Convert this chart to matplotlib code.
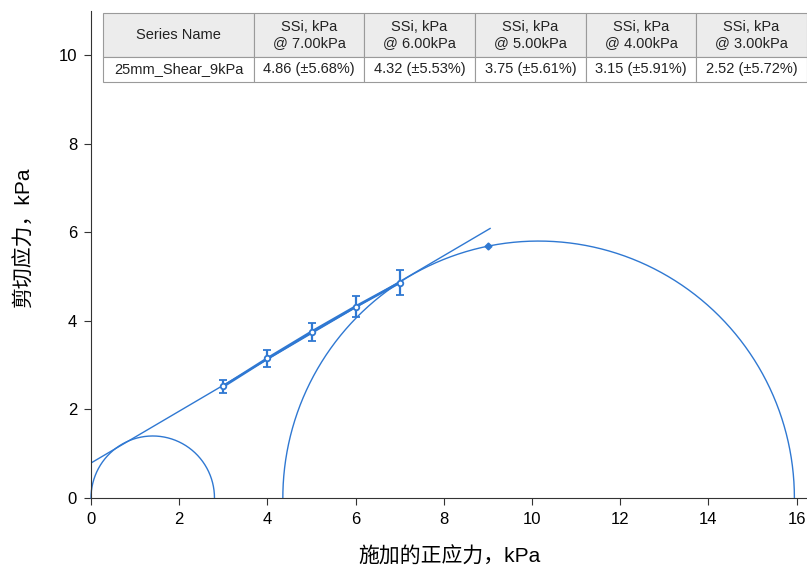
import numpy as np
import matplotlib
matplotlib.use("Agg")
import matplotlib.pyplot as plt

plt.rcParams['font.family'] = ['Liberation Sans', 'Noto Sans CJK SC', 'DejaVu Sans']

# measured points
normal_stress = [3.0, 4.0, 5.0, 6.0, 7.0]
shear_stress = [2.52, 3.15, 3.75, 4.32, 4.86]
err_pct = [5.72, 5.91, 5.61, 5.53, 5.68]

# fitted failure line
fit_x = [0.0, 9.05]
fit_intercept = 0.79
fit_slope = 0.585

# Mohr circles (center, radius)
circles = [(1.4, 1.4), (10.15, 5.8)]
peak_point = (9.0, 5.69)

col_labels = ['Series Name', 'SSi, kPa\n@ 7.00kPa', 'SSi, kPa\n@ 6.00kPa',
              'SSi, kPa\n@ 5.00kPa', 'SSi, kPa\n@ 4.00kPa', 'SSi, kPa\n@ 3.00kPa']
row_values = ['25mm_Shear_9kPa', '4.86 (±5.68%)', '4.32 (±5.53%)',
              '3.75 (±5.61%)', '3.15 (±5.91%)', '2.52 (±5.72%)']

blue = '#2f78d2'
W, H = 807, 572
fig = plt.figure(figsize=(W / 100, H / 100), dpi=100)
ax = fig.add_axes([91 / W, 1 - 498 / H, (W - 91) / W, (498 - 10.7) / H])

ax.set_xlim(0, (W - 91) / 44.1)
ax.set_ylim(0, 11)

for c, r in circles:
    t = np.linspace(0, np.pi, 400)
    ax.plot(c + r * np.cos(t), r * np.sin(t), color=blue, lw=1.0, clip_on=False)

fx = np.array(fit_x)
ax.plot(fx, fit_intercept + fit_slope * fx, color=blue, lw=1.0)

yerr = [s * p / 100 for s, p in zip(shear_stress, err_pct)]
ax.errorbar(normal_stress, shear_stress, yerr=yerr, color=blue, lw=2.0,
            elinewidth=1.6, capsize=3, capthick=1.6, marker='o', ms=4,
            mfc='white', mec=blue, mew=1.3)
ax.plot([peak_point[0]], [peak_point[1]], marker='D', ms=3.5, color=blue)

for s in ['top', 'right']:
    ax.spines[s].set_visible(False)
for s in ['left', 'bottom']:
    ax.spines[s].set_color('#333333')
ax.set_xticks(range(0, 17, 2))
ax.set_yticks(range(0, 11, 2))
ax.tick_params(labelsize=12, length=5, color='#333333', pad=5)
ax.set_xlabel('施加的正应力，kPa', fontsize=15, labelpad=14)
ax.set_ylabel('剪切应力，kPa', fontsize=15)
ax.yaxis.set_label_coords(-0.08, 0.536)

# summary table
tax = fig.add_axes([103 / W, 1 - 82 / H, (807 - 103) / W, (82 - 13) / H])
tax.axis('off')
widths = np.array([151, 110, 111, 111, 110, 111], float)
tbl = tax.table(cellText=[row_values], colLabels=col_labels,
                colWidths=list(widths / widths.sum()), cellLoc='center',
                bbox=[0, 0, 1.0, 1.0])
tbl.auto_set_font_size(False)
for (r, c), cell in tbl.get_celld().items():
    cell.set_edgecolor('#9a9a9a')
    cell.set_linewidth(0.8)
    cell.get_text().set_fontsize(10.5)
    cell.get_text().set_color('#222222')
    if r == 0:
        cell.set_facecolor('#ececec')
        cell.set_height(44)
    else:
        cell.set_facecolor('white')
        cell.set_height(25)

fig.savefig('out.png', dpi=100)
